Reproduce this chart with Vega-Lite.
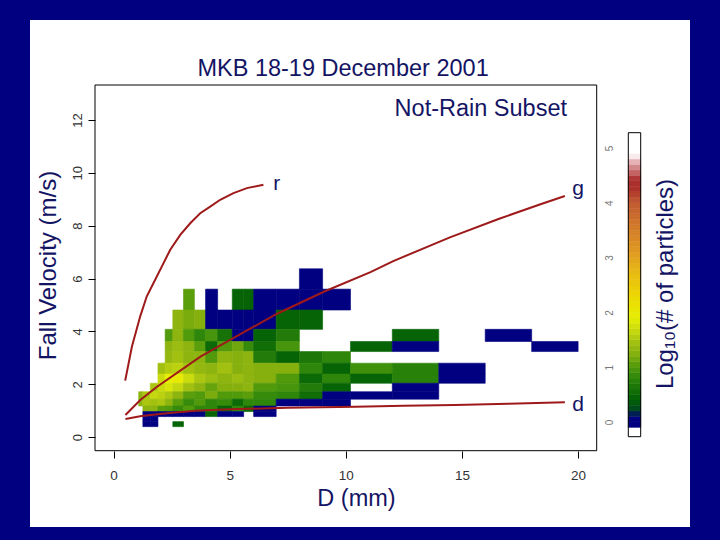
{
  "$schema": "https://vega.github.io/schema/vega-lite/v6.json",
  "width": 660,
  "height": 507,
  "autosize": {"type": "none"},
  "padding": {"left": 30, "top": 20, "right": 30, "bottom": 13},
  "background": "#000080",
  "config": {
    "view": {"fill": "white", "stroke": null},
    "font": "Liberation Sans"
  },
  "resolve": {"scale": {"x": "independent", "y": "independent"}},
  "layer": [
    {
      "data": {"values": [
        {"D": 8.0, "D2": 9.0, "V": 5.6, "V2": 6.37, "z": 0},
        {"D": 3.01, "D2": 3.48, "V": 4.81, "V2": 5.6, "z": 1.05},
        {"D": 3.96, "D2": 4.48, "V": 4.81, "V2": 5.6, "z": 0},
        {"D": 5.11, "D2": 5.6, "V": 4.81, "V2": 5.6, "z": 0.45},
        {"D": 5.6, "D2": 6.03, "V": 4.81, "V2": 5.6, "z": 0.45},
        {"D": 6.03, "D2": 7.0, "V": 4.81, "V2": 5.6, "z": 0},
        {"D": 7.0, "D2": 8.0, "V": 4.81, "V2": 5.6, "z": 0},
        {"D": 8.0, "D2": 9.0, "V": 4.81, "V2": 5.6, "z": 0},
        {"D": 9.0, "D2": 10.2, "V": 4.81, "V2": 5.6, "z": 0},
        {"D": 2.55, "D2": 3.01, "V": 4.08, "V2": 4.81, "z": 1.3},
        {"D": 3.01, "D2": 3.48, "V": 4.08, "V2": 4.81, "z": 1.2},
        {"D": 3.48, "D2": 3.96, "V": 4.08, "V2": 4.81, "z": 1.25},
        {"D": 3.96, "D2": 4.48, "V": 4.08, "V2": 4.81, "z": 0},
        {"D": 4.48, "D2": 5.11, "V": 4.08, "V2": 4.81, "z": 0},
        {"D": 5.11, "D2": 5.6, "V": 4.08, "V2": 4.81, "z": 0},
        {"D": 5.6, "D2": 6.03, "V": 4.08, "V2": 4.81, "z": 0},
        {"D": 6.03, "D2": 7.0, "V": 4.08, "V2": 4.81, "z": 0},
        {"D": 7.0, "D2": 8.0, "V": 4.08, "V2": 4.81, "z": 0.45},
        {"D": 8.0, "D2": 9.0, "V": 4.08, "V2": 4.81, "z": 0.45},
        {"D": 2.22, "D2": 2.55, "V": 3.62, "V2": 4.08, "z": 1.0},
        {"D": 2.55, "D2": 3.01, "V": 3.62, "V2": 4.08, "z": 1.3},
        {"D": 3.01, "D2": 3.48, "V": 3.62, "V2": 4.08, "z": 1.0},
        {"D": 3.48, "D2": 3.96, "V": 3.62, "V2": 4.08, "z": 0.8},
        {"D": 3.96, "D2": 4.48, "V": 3.62, "V2": 4.08, "z": 0.95},
        {"D": 4.48, "D2": 5.11, "V": 3.62, "V2": 4.08, "z": 0.6},
        {"D": 5.11, "D2": 5.6, "V": 3.62, "V2": 4.08, "z": 0},
        {"D": 5.6, "D2": 6.03, "V": 3.62, "V2": 4.08, "z": 0},
        {"D": 6.03, "D2": 7.0, "V": 3.62, "V2": 4.08, "z": 0.45},
        {"D": 7.0, "D2": 8.0, "V": 3.62, "V2": 4.08, "z": 0.7},
        {"D": 12.0, "D2": 14.0, "V": 3.62, "V2": 4.08, "z": 0.45},
        {"D": 16.0, "D2": 18.0, "V": 3.62, "V2": 4.08, "z": 0},
        {"D": 2.22, "D2": 2.55, "V": 3.24, "V2": 3.62, "z": 1.3},
        {"D": 2.55, "D2": 3.01, "V": 3.24, "V2": 3.62, "z": 1.4},
        {"D": 3.01, "D2": 3.48, "V": 3.24, "V2": 3.62, "z": 1.3},
        {"D": 3.48, "D2": 3.96, "V": 3.24, "V2": 3.62, "z": 1.05},
        {"D": 3.96, "D2": 4.48, "V": 3.24, "V2": 3.62, "z": 0.5},
        {"D": 4.48, "D2": 5.11, "V": 3.24, "V2": 3.62, "z": 1.0},
        {"D": 5.11, "D2": 5.6, "V": 3.24, "V2": 3.62, "z": 1.15},
        {"D": 5.6, "D2": 6.03, "V": 3.24, "V2": 3.62, "z": 0.85},
        {"D": 6.03, "D2": 7.0, "V": 3.24, "V2": 3.62, "z": 0.55},
        {"D": 7.0, "D2": 8.0, "V": 3.24, "V2": 3.62, "z": 0.95},
        {"D": 10.2, "D2": 12.0, "V": 3.24, "V2": 3.62, "z": 0.45},
        {"D": 12.0, "D2": 14.0, "V": 3.24, "V2": 3.62, "z": 0},
        {"D": 18.0, "D2": 20.0, "V": 3.24, "V2": 3.62, "z": 0},
        {"D": 2.22, "D2": 2.55, "V": 2.8, "V2": 3.24, "z": 1.35},
        {"D": 2.55, "D2": 3.01, "V": 2.8, "V2": 3.24, "z": 1.45},
        {"D": 3.01, "D2": 3.48, "V": 2.8, "V2": 3.24, "z": 1.3},
        {"D": 3.48, "D2": 3.96, "V": 2.8, "V2": 3.24, "z": 1.3},
        {"D": 3.96, "D2": 4.48, "V": 2.8, "V2": 3.24, "z": 1.0},
        {"D": 4.48, "D2": 5.11, "V": 2.8, "V2": 3.24, "z": 1.3},
        {"D": 5.11, "D2": 5.6, "V": 2.8, "V2": 3.24, "z": 1.25},
        {"D": 5.6, "D2": 6.03, "V": 2.8, "V2": 3.24, "z": 1.3},
        {"D": 6.03, "D2": 7.0, "V": 2.8, "V2": 3.24, "z": 0.7},
        {"D": 7.0, "D2": 8.0, "V": 2.8, "V2": 3.24, "z": 0.45},
        {"D": 8.0, "D2": 9.0, "V": 2.8, "V2": 3.24, "z": 0.65},
        {"D": 9.0, "D2": 10.2, "V": 2.8, "V2": 3.24, "z": 0.8},
        {"D": 1.91, "D2": 2.22, "V": 2.39, "V2": 2.8, "z": 1.45},
        {"D": 2.22, "D2": 2.55, "V": 2.39, "V2": 2.8, "z": 1.55},
        {"D": 2.55, "D2": 3.01, "V": 2.39, "V2": 2.8, "z": 1.6},
        {"D": 3.01, "D2": 3.48, "V": 2.39, "V2": 2.8, "z": 1.45},
        {"D": 3.48, "D2": 3.96, "V": 2.39, "V2": 2.8, "z": 1.35},
        {"D": 3.96, "D2": 4.48, "V": 2.39, "V2": 2.8, "z": 1.3},
        {"D": 4.48, "D2": 5.11, "V": 2.39, "V2": 2.8, "z": 1.45},
        {"D": 5.11, "D2": 5.6, "V": 2.39, "V2": 2.8, "z": 1.25},
        {"D": 5.6, "D2": 6.03, "V": 2.39, "V2": 2.8, "z": 1.3},
        {"D": 6.03, "D2": 7.0, "V": 2.39, "V2": 2.8, "z": 1.25},
        {"D": 7.0, "D2": 8.0, "V": 2.39, "V2": 2.8, "z": 1.25},
        {"D": 8.0, "D2": 9.0, "V": 2.39, "V2": 2.8, "z": 0.8},
        {"D": 9.0, "D2": 10.2, "V": 2.39, "V2": 2.8, "z": 0.45},
        {"D": 10.2, "D2": 12.0, "V": 2.39, "V2": 2.8, "z": 0.9},
        {"D": 12.0, "D2": 14.0, "V": 2.39, "V2": 2.8, "z": 0.75},
        {"D": 14.0, "D2": 16.0, "V": 2.39, "V2": 2.8, "z": 0},
        {"D": 1.91, "D2": 2.22, "V": 2.04, "V2": 2.39, "z": 1.7},
        {"D": 2.22, "D2": 2.55, "V": 2.04, "V2": 2.39, "z": 1.9},
        {"D": 2.55, "D2": 3.01, "V": 2.04, "V2": 2.39, "z": 1.95},
        {"D": 3.01, "D2": 3.48, "V": 2.04, "V2": 2.39, "z": 1.7},
        {"D": 3.48, "D2": 3.96, "V": 2.04, "V2": 2.39, "z": 1.5},
        {"D": 3.96, "D2": 4.48, "V": 2.04, "V2": 2.39, "z": 1.4},
        {"D": 4.48, "D2": 5.11, "V": 2.04, "V2": 2.39, "z": 1.3},
        {"D": 5.11, "D2": 5.6, "V": 2.04, "V2": 2.39, "z": 1.4},
        {"D": 5.6, "D2": 6.03, "V": 2.04, "V2": 2.39, "z": 1.3},
        {"D": 6.03, "D2": 7.0, "V": 2.04, "V2": 2.39, "z": 1.25},
        {"D": 7.0, "D2": 8.0, "V": 2.04, "V2": 2.39, "z": 1.0},
        {"D": 8.0, "D2": 9.0, "V": 2.04, "V2": 2.39, "z": 0.5},
        {"D": 9.0, "D2": 10.2, "V": 2.04, "V2": 2.39, "z": 0.8},
        {"D": 10.2, "D2": 12.0, "V": 2.04, "V2": 2.39, "z": 0.45},
        {"D": 12.0, "D2": 14.0, "V": 2.04, "V2": 2.39, "z": 0.75},
        {"D": 14.0, "D2": 16.0, "V": 2.04, "V2": 2.39, "z": 0},
        {"D": 1.58, "D2": 1.91, "V": 1.72, "V2": 2.04, "z": 1.5},
        {"D": 1.91, "D2": 2.22, "V": 1.72, "V2": 2.04, "z": 1.7},
        {"D": 2.22, "D2": 2.55, "V": 1.72, "V2": 2.04, "z": 1.8},
        {"D": 2.55, "D2": 3.01, "V": 1.72, "V2": 2.04, "z": 1.65},
        {"D": 3.01, "D2": 3.48, "V": 1.72, "V2": 2.04, "z": 1.45},
        {"D": 3.48, "D2": 3.96, "V": 1.72, "V2": 2.04, "z": 1.3},
        {"D": 3.96, "D2": 4.48, "V": 1.72, "V2": 2.04, "z": 1.1},
        {"D": 4.48, "D2": 5.11, "V": 1.72, "V2": 2.04, "z": 1.25},
        {"D": 5.11, "D2": 5.6, "V": 1.72, "V2": 2.04, "z": 1.25},
        {"D": 5.6, "D2": 6.03, "V": 1.72, "V2": 2.04, "z": 1.3},
        {"D": 6.03, "D2": 7.0, "V": 1.72, "V2": 2.04, "z": 1.0},
        {"D": 7.0, "D2": 8.0, "V": 1.72, "V2": 2.04, "z": 0.95},
        {"D": 8.0, "D2": 9.0, "V": 1.72, "V2": 2.04, "z": 0.7},
        {"D": 9.0, "D2": 10.2, "V": 1.72, "V2": 2.04, "z": 0.45},
        {"D": 12.0, "D2": 14.0, "V": 1.72, "V2": 2.04, "z": 0},
        {"D": 1.08, "D2": 1.26, "V": 1.44, "V2": 1.72, "z": 1.3},
        {"D": 1.26, "D2": 1.58, "V": 1.44, "V2": 1.72, "z": 1.5},
        {"D": 1.58, "D2": 1.91, "V": 1.44, "V2": 1.72, "z": 1.65},
        {"D": 1.91, "D2": 2.22, "V": 1.44, "V2": 1.72, "z": 1.6},
        {"D": 2.22, "D2": 2.55, "V": 1.44, "V2": 1.72, "z": 1.5},
        {"D": 2.55, "D2": 3.01, "V": 1.44, "V2": 1.72, "z": 1.3},
        {"D": 3.01, "D2": 3.48, "V": 1.44, "V2": 1.72, "z": 1.05},
        {"D": 3.48, "D2": 3.96, "V": 1.44, "V2": 1.72, "z": 1.0},
        {"D": 3.96, "D2": 4.48, "V": 1.44, "V2": 1.72, "z": 1.2},
        {"D": 4.48, "D2": 5.11, "V": 1.44, "V2": 1.72, "z": 1.0},
        {"D": 5.11, "D2": 5.6, "V": 1.44, "V2": 1.72, "z": 1.0},
        {"D": 5.6, "D2": 6.03, "V": 1.44, "V2": 1.72, "z": 1.05},
        {"D": 6.03, "D2": 7.0, "V": 1.44, "V2": 1.72, "z": 0.85},
        {"D": 7.0, "D2": 8.0, "V": 1.44, "V2": 1.72, "z": 0.8},
        {"D": 8.0, "D2": 9.0, "V": 1.44, "V2": 1.72, "z": 0.55},
        {"D": 9.0, "D2": 10.2, "V": 1.44, "V2": 1.72, "z": 0},
        {"D": 10.2, "D2": 12.0, "V": 1.44, "V2": 1.72, "z": 0},
        {"D": 12.0, "D2": 14.0, "V": 1.44, "V2": 1.72, "z": 0},
        {"D": 1.08, "D2": 1.26, "V": 1.18, "V2": 1.44, "z": 1.3},
        {"D": 1.26, "D2": 1.58, "V": 1.18, "V2": 1.44, "z": 1.5},
        {"D": 1.58, "D2": 1.91, "V": 1.18, "V2": 1.44, "z": 1.45},
        {"D": 1.91, "D2": 2.22, "V": 1.18, "V2": 1.44, "z": 1.5},
        {"D": 2.22, "D2": 2.55, "V": 1.18, "V2": 1.44, "z": 1.3},
        {"D": 2.55, "D2": 3.01, "V": 1.18, "V2": 1.44, "z": 1.05},
        {"D": 3.01, "D2": 3.48, "V": 1.18, "V2": 1.44, "z": 0.85},
        {"D": 3.48, "D2": 3.96, "V": 1.18, "V2": 1.44, "z": 1.0},
        {"D": 3.96, "D2": 4.48, "V": 1.18, "V2": 1.44, "z": 0.8},
        {"D": 4.48, "D2": 5.11, "V": 1.18, "V2": 1.44, "z": 0.85},
        {"D": 5.11, "D2": 5.6, "V": 1.18, "V2": 1.44, "z": 0.5},
        {"D": 5.6, "D2": 6.03, "V": 1.18, "V2": 1.44, "z": 0.8},
        {"D": 6.03, "D2": 7.0, "V": 1.18, "V2": 1.44, "z": 0.8},
        {"D": 7.0, "D2": 8.0, "V": 1.18, "V2": 1.44, "z": 0},
        {"D": 8.0, "D2": 9.0, "V": 1.18, "V2": 1.44, "z": 0},
        {"D": 9.0, "D2": 10.2, "V": 1.18, "V2": 1.44, "z": 0},
        {"D": 1.26, "D2": 1.58, "V": 0.97, "V2": 1.18, "z": 1.3},
        {"D": 1.58, "D2": 1.91, "V": 0.97, "V2": 1.18, "z": 1.3},
        {"D": 1.91, "D2": 2.22, "V": 0.97, "V2": 1.18, "z": 1.05},
        {"D": 2.22, "D2": 2.55, "V": 0.97, "V2": 1.18, "z": 1.0},
        {"D": 2.55, "D2": 3.01, "V": 0.97, "V2": 1.18, "z": 0.85},
        {"D": 3.01, "D2": 3.48, "V": 0.97, "V2": 1.18, "z": 1.0},
        {"D": 3.48, "D2": 3.96, "V": 0.97, "V2": 1.18, "z": 0.8},
        {"D": 3.96, "D2": 4.48, "V": 0.97, "V2": 1.18, "z": 0.8},
        {"D": 4.48, "D2": 5.11, "V": 0.97, "V2": 1.18, "z": 0.45},
        {"D": 5.11, "D2": 5.6, "V": 0.97, "V2": 1.18, "z": 0.8},
        {"D": 5.6, "D2": 6.03, "V": 0.97, "V2": 1.18, "z": 0.5},
        {"D": 6.03, "D2": 7.0, "V": 0.97, "V2": 1.18, "z": 0},
        {"D": 1.26, "D2": 1.58, "V": 0.78, "V2": 0.97, "z": 0},
        {"D": 1.58, "D2": 1.91, "V": 0.78, "V2": 0.97, "z": 0},
        {"D": 1.91, "D2": 2.22, "V": 0.78, "V2": 0.97, "z": 0},
        {"D": 2.22, "D2": 2.55, "V": 0.78, "V2": 0.97, "z": 0},
        {"D": 2.55, "D2": 3.01, "V": 0.78, "V2": 0.97, "z": 0},
        {"D": 3.01, "D2": 3.48, "V": 0.78, "V2": 0.97, "z": 0},
        {"D": 3.48, "D2": 3.96, "V": 0.78, "V2": 0.97, "z": 0},
        {"D": 3.96, "D2": 4.48, "V": 0.78, "V2": 0.97, "z": 0.45},
        {"D": 4.48, "D2": 5.11, "V": 0.78, "V2": 0.97, "z": 0},
        {"D": 5.11, "D2": 5.6, "V": 0.78, "V2": 0.97, "z": 0},
        {"D": 6.03, "D2": 7.0, "V": 0.78, "V2": 0.97, "z": 0},
        {"D": 1.26, "D2": 1.58, "V": 0.59, "V2": 0.78, "z": 0},
        {"D": 1.58, "D2": 1.91, "V": 0.59, "V2": 0.78, "z": 0},
        {"D": 1.26, "D2": 1.58, "V": 0.4, "V2": 0.59, "z": 0},
        {"D": 1.58, "D2": 1.91, "V": 0.4, "V2": 0.59, "z": 0},
        {"D": 2.55, "D2": 3.01, "V": 0.4, "V2": 0.59, "z": 0.45}
      ]},
      "mark": {"type": "rect", "strokeWidth": 0.6},
      "encoding": {
        "x": {"field": "D", "type": "quantitative", "scale": {"domain": [-0.8, 20.8], "range": [65, 566.7], "nice": false, "zero": false},
          "axis": {"title": "D (mm)", "orient": "bottom", "zindex": 2, "values": [0, 5, 10, 15, 20], "offset": -76, "domain": false, "grid": false, "ticks": true, "tickColor": "#000000", "tickSize": 7, "tickWidth": 1, "labelFontSize": 13.5, "labelColor": "#333333", "labelPadding": 10, "labelFont": "Liberation Sans", "labelFlush": false, "labelOverlap": false, "titleFont": "Liberation Sans", "titleFontSize": 23.5, "titleFontWeight": "normal", "titleColor": "#141464", "titleX": 326, "titleY": 47, "titleAlign": "center", "titleBaseline": "middle"}},
        "x2": {"field": "D2"},
        "y": {"field": "V", "type": "quantitative", "scale": {"domain": [-0.51, 13.32], "range": [430.7, 65], "nice": false, "zero": false},
          "axis": {"title": "Fall Velocity (m/s)", "orient": "left", "zindex": 2, "values": [0, 2, 4, 6, 8, 10, 12], "offset": -65, "domain": false, "grid": false, "ticks": true, "tickColor": "#000000", "tickSize": 7, "tickWidth": 1, "labelAngle": 270, "labelAlign": "center", "labelBaseline": "middle", "labelPadding": 11, "labelFontSize": 13, "labelColor": "#333333", "labelFont": "Liberation Sans", "labelFlush": false, "labelOverlap": false, "titleFont": "Liberation Sans", "titleFontSize": 24, "titleFontWeight": "normal", "titleColor": "#141464", "titleX": -47, "titleY": 245, "titleAngle": 270, "titleAlign": "center", "titleBaseline": "middle"}},
        "y2": {"field": "V2"},
        "fill": {"field": "z", "type": "quantitative", "legend": null, "scale": {"type": "linear", "interpolate": "rgb", "domain": [-0.3, -0.125, -0.12, 0.1, 0.2, 0.3, 0.45, 0.8, 1.0, 1.25, 1.45, 1.65, 1.9, 2.3, 2.7, 3.1, 3.6, 4.0, 4.3, 4.45, 4.55, 4.68, 4.8, 4.88, 5.3], "range": ["#ffffff", "#ffffff", "#000080", "#000080", "#00402a", "#005510", "#066406", "#2e860a", "#509a0c", "#86b00e", "#a2c010", "#c4d810", "#e6ee04", "#ecd800", "#e8bc14", "#e09a22", "#d0782a", "#c05a30", "#a82a28", "#b03838", "#c46464", "#d89494", "#f0c8cc", "#ffffff", "#ffffff"]}},
        "stroke": {"field": "z", "type": "quantitative", "legend": null, "scale": {"type": "linear", "interpolate": "rgb", "domain": [-0.3, -0.125, -0.12, 0.1, 0.2, 0.3, 0.45, 0.8, 1.0, 1.25, 1.45, 1.65, 1.9, 2.3, 2.7, 3.1, 3.6, 4.0, 4.3, 4.45, 4.55, 4.68, 4.8, 4.88, 5.3], "range": ["#ffffff", "#ffffff", "#000080", "#000080", "#00402a", "#005510", "#066406", "#2e860a", "#509a0c", "#86b00e", "#a2c010", "#c4d810", "#e6ee04", "#ecd800", "#e8bc14", "#e09a22", "#d0782a", "#c05a30", "#a82a28", "#b03838", "#c46464", "#d89494", "#f0c8cc", "#ffffff", "#ffffff"]}}
      }
    },
    {
      "data": {"values": [{"D": -0.8, "D2": 20.8, "V": -0.51, "V2": 13.32}]},
      "mark": {"type": "rect", "filled": false, "stroke": "#000000", "strokeWidth": 1},
      "encoding": {
        "x": {"field": "D", "type": "quantitative", "axis": null, "scale": {"domain": [-0.8, 20.8], "range": [65, 566.7], "nice": false, "zero": false}},
        "x2": {"field": "D2"},
        "y": {"field": "V", "type": "quantitative", "axis": null, "scale": {"domain": [-0.51, 13.32], "range": [430.7, 65], "nice": false, "zero": false}},
        "y2": {"field": "V2"}
      }
    },
    {
      "data": {"values": [
        {"c": "r", "D": 0.5, "V": 2.14}, {"c": "r", "D": 0.79, "V": 3.43}, {"c": "r", "D": 1.15, "V": 4.58}, {"c": "r", "D": 1.43, "V": 5.33}, {"c": "r", "D": 1.72, "V": 5.83}, {"c": "r", "D": 2.08, "V": 6.46}, {"c": "r", "D": 2.44, "V": 7.09}, {"c": "r", "D": 2.87, "V": 7.65}, {"c": "r", "D": 3.3, "V": 8.09}, {"c": "r", "D": 3.73, "V": 8.47}, {"c": "r", "D": 4.16, "V": 8.72}, {"c": "r", "D": 4.59, "V": 8.98}, {"c": "r", "D": 5.16, "V": 9.23}, {"c": "r", "D": 5.74, "V": 9.42}, {"c": "r", "D": 6.45, "V": 9.55},
        {"c": "g", "D": 0.51, "V": 0.84}, {"c": "g", "D": 1.15, "V": 1.41}, {"c": "g", "D": 1.87, "V": 1.91}, {"c": "g", "D": 3.74, "V": 3.05}, {"c": "g", "D": 5.17, "V": 3.76}, {"c": "g", "D": 7.04, "V": 4.67}, {"c": "g", "D": 9.05, "V": 5.5}, {"c": "g", "D": 11.06, "V": 6.24}, {"c": "g", "D": 12.04, "V": 6.66}, {"c": "g", "D": 14.48, "V": 7.56}, {"c": "g", "D": 16.63, "V": 8.27}, {"c": "g", "D": 18.35, "V": 8.8}, {"c": "g", "D": 19.43, "V": 9.12},
        {"c": "d", "D": 0.51, "V": 0.69}, {"c": "d", "D": 1.2, "V": 0.8}, {"c": "d", "D": 2.3, "V": 0.91}, {"c": "d", "D": 3.5, "V": 1.0}, {"c": "d", "D": 5.02, "V": 1.06}, {"c": "d", "D": 7.5, "V": 1.11}, {"c": "d", "D": 10.4, "V": 1.15}, {"c": "d", "D": 12.5, "V": 1.19}, {"c": "d", "D": 14.7, "V": 1.22}, {"c": "d", "D": 17.0, "V": 1.27}, {"c": "d", "D": 19.43, "V": 1.32}
      ]},
      "mark": {"type": "line", "color": "#9e1a1a", "strokeWidth": 2},
      "encoding": {
        "x": {"field": "D", "type": "quantitative", "axis": null, "scale": {"domain": [-0.8, 20.8], "range": [65, 566.7], "nice": false, "zero": false}},
        "y": {"field": "V", "type": "quantitative", "axis": null, "scale": {"domain": [-0.51, 13.32], "range": [430.7, 65], "nice": false, "zero": false}},
        "detail": {"field": "c"}
      }
    },
    {
      "data": {"values": [
        {"t": "r", "D": 7.02, "V": 9.35},
        {"t": "g", "D": 20.0, "V": 9.16},
        {"t": "d", "D": 20.0, "V": 0.98}
      ]},
      "mark": {"type": "text", "fontSize": 21, "color": "#141464", "align": "center", "baseline": "alphabetic", "font": "Liberation Sans"},
      "encoding": {
        "x": {"field": "D", "type": "quantitative", "axis": null, "scale": {"domain": [-0.8, 20.8], "range": [65, 566.7], "nice": false, "zero": false}},
        "y": {"field": "V", "type": "quantitative", "axis": null, "scale": {"domain": [-0.51, 13.32], "range": [430.7, 65], "nice": false, "zero": false}},
        "text": {"field": "t"}
      }
    },
    {
      "data": {"values": [{"t": "Not-Rain Subset", "D": 15.81, "V": 12.13}]},
      "mark": {"type": "text", "fontSize": 23.5, "color": "#141464", "align": "center", "baseline": "alphabetic", "font": "Liberation Sans"},
      "encoding": {
        "x": {"field": "D", "type": "quantitative", "axis": null, "scale": {"domain": [-0.8, 20.8], "range": [65, 566.7], "nice": false, "zero": false}},
        "y": {"field": "V", "type": "quantitative", "axis": null, "scale": {"domain": [-0.51, 13.32], "range": [430.7, 65], "nice": false, "zero": false}},
        "text": {"field": "t"}
      }
    },
    {
      "data": {"values": [{"t": "MKB 18-19 December 2001", "D": 9.88, "V": 13.66}]},
      "mark": {"type": "text", "fontSize": 23.5, "color": "#141464", "align": "center", "baseline": "alphabetic", "font": "Liberation Sans"},
      "encoding": {
        "x": {"field": "D", "type": "quantitative", "axis": null, "scale": {"domain": [-0.8, 20.8], "range": [65, 566.7], "nice": false, "zero": false}},
        "y": {"field": "V", "type": "quantitative", "axis": null, "scale": {"domain": [-0.51, 13.32], "range": [430.7, 65], "nice": false, "zero": false}},
        "text": {"field": "t"}
      }
    },
    {
      "data": {"values": [
        {"lo": -0.27, "hi": -0.2, "v": -0.235}, {"lo": -0.2, "hi": -0.1, "v": -0.15}, {"lo": -0.1, "hi": 0.0, "v": -0.05},
        {"lo": 0.0, "hi": 0.1, "v": 0.05}, {"lo": 0.1, "hi": 0.2, "v": 0.15}, {"lo": 0.2, "hi": 0.3, "v": 0.25}, {"lo": 0.3, "hi": 0.4, "v": 0.35}, {"lo": 0.4, "hi": 0.5, "v": 0.45},
        {"lo": 0.5, "hi": 0.6, "v": 0.55}, {"lo": 0.6, "hi": 0.7, "v": 0.65}, {"lo": 0.7, "hi": 0.8, "v": 0.75}, {"lo": 0.8, "hi": 0.9, "v": 0.85}, {"lo": 0.9, "hi": 1.0, "v": 0.95},
        {"lo": 1.0, "hi": 1.1, "v": 1.05}, {"lo": 1.1, "hi": 1.2, "v": 1.15}, {"lo": 1.2, "hi": 1.3, "v": 1.25}, {"lo": 1.3, "hi": 1.4, "v": 1.35}, {"lo": 1.4, "hi": 1.5, "v": 1.45},
        {"lo": 1.5, "hi": 1.6, "v": 1.55}, {"lo": 1.6, "hi": 1.7, "v": 1.65}, {"lo": 1.7, "hi": 1.8, "v": 1.75}, {"lo": 1.8, "hi": 1.9, "v": 1.85}, {"lo": 1.9, "hi": 2.0, "v": 1.95},
        {"lo": 2.0, "hi": 2.1, "v": 2.05}, {"lo": 2.1, "hi": 2.2, "v": 2.15}, {"lo": 2.2, "hi": 2.3, "v": 2.25}, {"lo": 2.3, "hi": 2.4, "v": 2.35}, {"lo": 2.4, "hi": 2.5, "v": 2.45},
        {"lo": 2.5, "hi": 2.6, "v": 2.55}, {"lo": 2.6, "hi": 2.7, "v": 2.65}, {"lo": 2.7, "hi": 2.8, "v": 2.75}, {"lo": 2.8, "hi": 2.9, "v": 2.85}, {"lo": 2.9, "hi": 3.0, "v": 2.95},
        {"lo": 3.0, "hi": 3.1, "v": 3.05}, {"lo": 3.1, "hi": 3.2, "v": 3.15}, {"lo": 3.2, "hi": 3.3, "v": 3.25}, {"lo": 3.3, "hi": 3.4, "v": 3.35}, {"lo": 3.4, "hi": 3.5, "v": 3.45},
        {"lo": 3.5, "hi": 3.6, "v": 3.55}, {"lo": 3.6, "hi": 3.7, "v": 3.65}, {"lo": 3.7, "hi": 3.8, "v": 3.75}, {"lo": 3.8, "hi": 3.9, "v": 3.85}, {"lo": 3.9, "hi": 4.0, "v": 3.95},
        {"lo": 4.0, "hi": 4.1, "v": 4.05}, {"lo": 4.1, "hi": 4.2, "v": 4.15}, {"lo": 4.2, "hi": 4.3, "v": 4.25}, {"lo": 4.3, "hi": 4.4, "v": 4.35}, {"lo": 4.4, "hi": 4.5, "v": 4.45},
        {"lo": 4.5, "hi": 4.6, "v": 4.55}, {"lo": 4.6, "hi": 4.7, "v": 4.65}, {"lo": 4.7, "hi": 4.8, "v": 4.75}, {"lo": 4.8, "hi": 4.9, "v": 4.85}, {"lo": 4.9, "hi": 5.0, "v": 4.95},
        {"lo": 5.0, "hi": 5.1, "v": 5.05}, {"lo": 5.1, "hi": 5.2, "v": 5.15}, {"lo": 5.2, "hi": 5.28, "v": 5.24}
      ]},
      "mark": {"type": "rect", "strokeWidth": 0.5},
      "encoding": {
        "x": {"datum": 0, "type": "quantitative", "axis": null, "scale": {"domain": [0, 1], "range": [598.3, 610.7], "nice": false, "zero": false}},
        "x2": {"datum": 1},
        "y": {"field": "lo", "type": "quantitative", "scale": {"domain": [-0.27, 5.28], "range": [416.7, 112.7], "nice": false, "zero": false},
          "axis": {"orient": "left", "zindex": 2, "offset": -598.3, "values": [0, 1, 2, 3, 4, 5], "ticks": false, "tickSize": 0, "domain": false, "grid": false, "labelAngle": 270, "labelAlign": "center", "labelBaseline": "middle", "labelPadding": 19, "labelFontSize": 10, "labelColor": "#777777", "labelFont": "Liberation Sans", "title": "Log₁₀(# of particles)", "titleFont": "Liberation Sans", "titleX": 36.7, "titleY": 263.5, "titleAngle": 270, "titleAlign": "center", "titleBaseline": "middle", "titleFontSize": 24, "titleFontWeight": "normal", "titleColor": "#141464"}},
        "y2": {"field": "hi"},
        "fill": {"field": "v", "type": "quantitative", "legend": null, "scale": {"type": "linear", "interpolate": "rgb", "domain": [-0.3, -0.125, -0.12, 0.1, 0.2, 0.3, 0.45, 0.8, 1.0, 1.25, 1.45, 1.65, 1.9, 2.3, 2.7, 3.1, 3.6, 4.0, 4.3, 4.45, 4.55, 4.68, 4.8, 4.88, 5.3], "range": ["#ffffff", "#ffffff", "#000080", "#000080", "#00402a", "#005510", "#066406", "#2e860a", "#509a0c", "#86b00e", "#a2c010", "#c4d810", "#e6ee04", "#ecd800", "#e8bc14", "#e09a22", "#d0782a", "#c05a30", "#a82a28", "#b03838", "#c46464", "#d89494", "#f0c8cc", "#ffffff", "#ffffff"]}},
        "stroke": {"field": "v", "type": "quantitative", "legend": null, "scale": {"type": "linear", "interpolate": "rgb", "domain": [-0.3, -0.125, -0.12, 0.1, 0.2, 0.3, 0.45, 0.8, 1.0, 1.25, 1.45, 1.65, 1.9, 2.3, 2.7, 3.1, 3.6, 4.0, 4.3, 4.45, 4.55, 4.68, 4.8, 4.88, 5.3], "range": ["#ffffff", "#ffffff", "#000080", "#000080", "#00402a", "#005510", "#066406", "#2e860a", "#509a0c", "#86b00e", "#a2c010", "#c4d810", "#e6ee04", "#ecd800", "#e8bc14", "#e09a22", "#d0782a", "#c05a30", "#a82a28", "#b03838", "#c46464", "#d89494", "#f0c8cc", "#ffffff", "#ffffff"]}}
      }
    },
    {
      "data": {"values": [{"lo": -0.27, "hi": 5.28}]},
      "mark": {"type": "rect", "filled": false, "stroke": "#000000", "strokeWidth": 1},
      "encoding": {
        "x": {"datum": 0, "type": "quantitative", "axis": null, "scale": {"domain": [0, 1], "range": [598.3, 610.7], "nice": false, "zero": false}},
        "x2": {"datum": 1},
        "y": {"field": "lo", "type": "quantitative", "axis": null, "scale": {"domain": [-0.27, 5.28], "range": [416.7, 112.7], "nice": false, "zero": false}},
        "y2": {"field": "hi"}
      }
    }
  ]
}
